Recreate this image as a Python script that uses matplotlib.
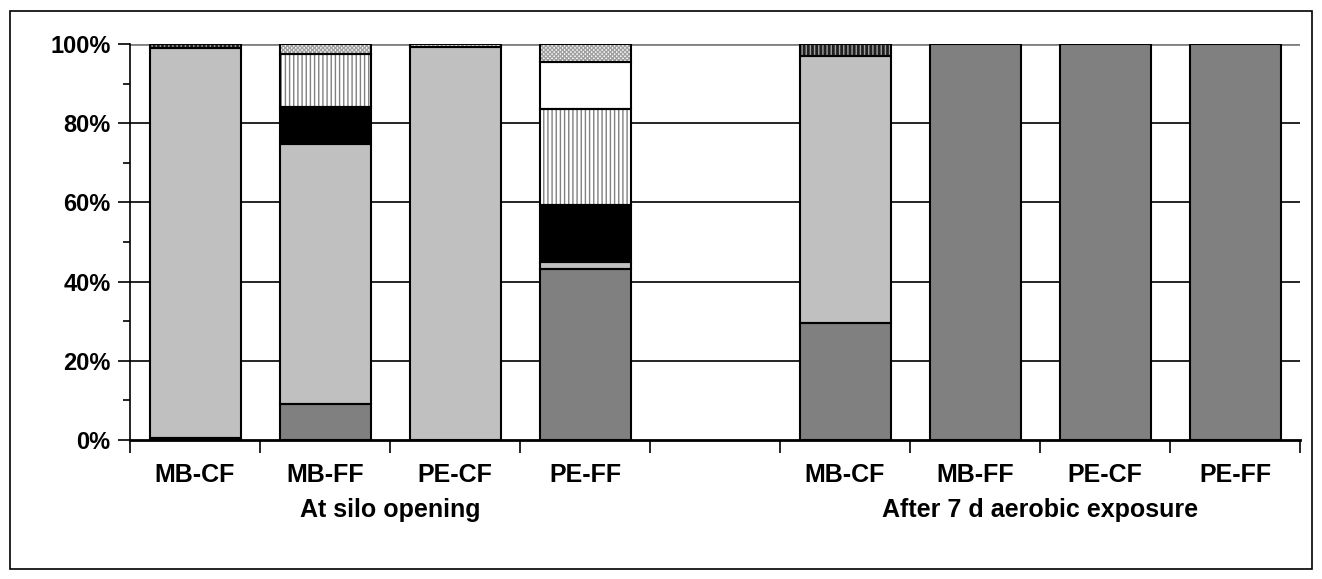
import matplotlib.pyplot as plt
import numpy as np
from matplotlib.patches import Rectangle

plt.rcParams['font.family'] = ['Liberation Sans', 'DejaVu Sans']
plt.rcParams['font.weight'] = 'bold'
plt.rcParams['hatch.linewidth'] = 1.0

# 9 slots, slot 4 is an empty spacer between the two groups
labels = ['MB-CF', 'MB-FF', 'PE-CF', 'PE-FF', '', 'MB-CF', 'MB-FF', 'PE-CF', 'PE-FF']
groups = ['At silo opening', 'After 7 d aerobic exposure']

# stacked shares (%), bottom to top
s_dark = [0.5, 9.0, 0.0, 43.1, 0, 29.5, 100, 100, 100]
s_light = [98.5, 65.7, 99.2, 1.9, 0, 67.5, 0, 0, 0]
s_black = [0.0, 9.5, 0.0, 14.3, 0, 0, 0, 0, 0]
s_vert = [0.0, 13.3, 0.0, 24.2, 0, 0, 0, 0, 0]
s_white = [0.0, 0.0, 0.0, 11.9, 0, 0, 0, 0, 0]
s_dots = [0.0, 2.5, 0.8, 4.6, 0, 0, 0, 0, 0]
s_darkvert = [1.0, 0.0, 0.0, 0.0, 0, 3.0, 0, 0, 0]

series = [
    (s_dark, '#808080', None, None),
    (s_light, '#c0c0c0', None, None),
    (s_black, '#000000', None, None),
    (s_vert, '#ffffff', '||||', '#808080'),
    (s_white, '#ffffff', None, None),
    (s_dots, '#ffffff', 'xxxxxxxx', '#a0a0a0'),
    (s_darkvert, '#202020', '||||', '#a0a0a0'),
]

fig = plt.figure(figsize=(13.22, 5.79), dpi=100)
ax = fig.add_axes([130 / 1322, 1 - 440 / 579, 1170 / 1322, 396 / 579])

x = np.arange(len(labels))
width = 0.7
bottom = np.zeros(len(labels))
for vals, fc, hatch, hc in series:
    vals = np.array(vals, dtype=float)
    if hatch:
        ax.bar(x, vals, width, bottom=bottom, color=fc, edgecolor=hc,
               hatch=hatch, linewidth=0, zorder=3)
    else:
        ax.bar(x, vals, width, bottom=bottom, color=fc, linewidth=0, zorder=3)
    # outlines
    ax.bar(x[vals > 0], vals[vals > 0], width, bottom=bottom[vals > 0],
           fill=False, edgecolor='black', linewidth=1.5, zorder=4)
    bottom += vals

ax.set_xlim(-0.5, 8.5)
ax.set_ylim(0, 100)
ax.set_yticks(np.arange(0, 101, 20))
ax.set_yticklabels([f'{v}%' for v in range(0, 101, 20)], fontsize=17, fontweight='bold')
ax.set_yticks(np.arange(10, 100, 20), minor=True)
ax.tick_params(axis='y', which='major', length=9, width=1.2, direction='out', pad=5)
ax.tick_params(axis='y', which='minor', length=5, width=1.2, direction='out')

for v in range(20, 100, 20):
    ax.axhline(v, color='black', linewidth=1.2, zorder=1)
ax.axhline(100, color='#808080', linewidth=2, zorder=1)

ax.set_xticks(np.arange(-0.5, 9, 1))
ax.set_xticklabels([])
ax.tick_params(axis='x', length=9, width=1.2, direction='out')
for xi, lab in zip(x, labels):
    ax.text(xi, -8.9, lab, ha='center', va='center', fontsize=18, fontweight='bold')
ax.text(1.5, -17.6, groups[0], ha='center', va='center', fontsize=18, fontweight='bold')
ax.text(6.5, -17.6, groups[1], ha='center', va='center', fontsize=18, fontweight='bold')

for side in ['top', 'right']:
    ax.spines[side].set_visible(False)
ax.spines['left'].set_linewidth(1.2)
ax.spines['bottom'].set_linewidth(2)

fig.patches.append(Rectangle((10 / 1322, 10 / 579), 1302 / 1322, 558 / 579,
                             transform=fig.transFigure, fill=False,
                             edgecolor='black', linewidth=1.2))

fig.savefig('out.png', dpi=100)
